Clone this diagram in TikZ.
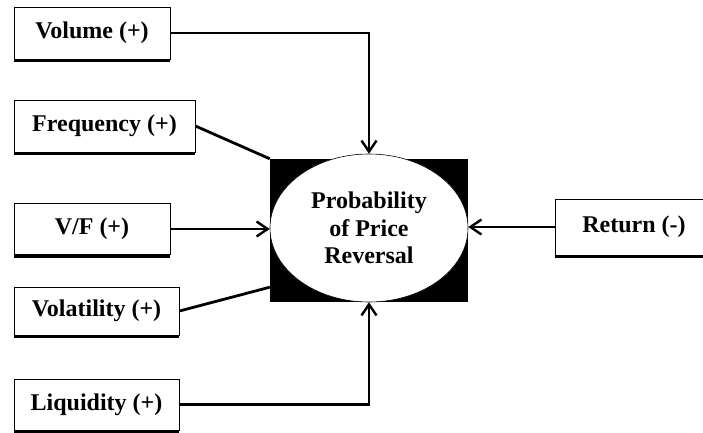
\documentclass[tikz,border=0pt]{standalone}
\usepackage{fontspec}
\setmainfont{Liberation Serif}
\usetikzlibrary{arrows.meta,calc,shapes.geometric}
\begin{document}
\begin{tikzpicture}[x=1pt,y=-1pt,
  lbl/.style={draw,line width=0.9pt,fill=white,inner sep=0pt,align=center,
    font=\fontsize{24}{28}\selectfont\bfseries},
  shade/.style={line width=3.2pt},
  conn/.style={line width=2.8pt},
  arr/.style={conn,-{Straight Barb[length=11pt,width=15pt,line width=2.4pt]}}]
\useasboundingbox (0,0) rectangle (703,433);
\begin{scope}
\clip (0,0) rectangle (703,433);
\node[lbl,minimum width=156pt,minimum height=52pt] (vol) at (92,33) {Volume (+)};
\node[lbl,minimum width=181pt,minimum height=52pt] (freq) at (104.5,126) {Frequency (+)};
\node[lbl,minimum width=156pt,minimum height=51pt] (vf) at (92,229) {V/F (+)};
\node[lbl,minimum width=165pt,minimum height=48pt] (vola) at (96.5,311) {Volatility (+)};
\node[lbl,minimum width=165pt,minimum height=51pt] (liq) at (96.5,404.5) {Liquidity (+)};
\node[lbl,minimum width=158pt,minimum height=56pt] (ret) at (634,227) {Return (-)};
\foreach \n in {vol,freq,vf,vola,liq,ret}
  \draw[shade] ($(\n.south west)+(0,1)$) -- ($(\n.south east)+(0,1)$);
\node[fill=black,minimum width=198pt,minimum height=143pt,inner sep=0pt] (blk) at (369,230.5) {};
\node[ellipse,draw,line width=0.6pt,fill=white,minimum width=198pt,minimum height=148pt,inner sep=0pt,align=center,
  font=\fontsize{24}{27.5}\selectfont\bfseries] (ell) at (369,228) {Probability\\of Price\\Reversal};
\coordinate (volaend) at ($(blk.south west)+(0,-15)$);
\draw[arr] (vol.east) -| (ell.north);
\draw[conn] (freq.east) -- (blk.north west);
\draw[arr] (vf.east) -- (vf.east -| ell.west);
\draw[conn] (vola.east) -- (volaend);
\draw[arr] (liq.east) -| (ell.south);
\draw[arr] (ret.west) -- (ret.west -| ell.east);
\end{scope}
\end{tikzpicture}
\end{document}
